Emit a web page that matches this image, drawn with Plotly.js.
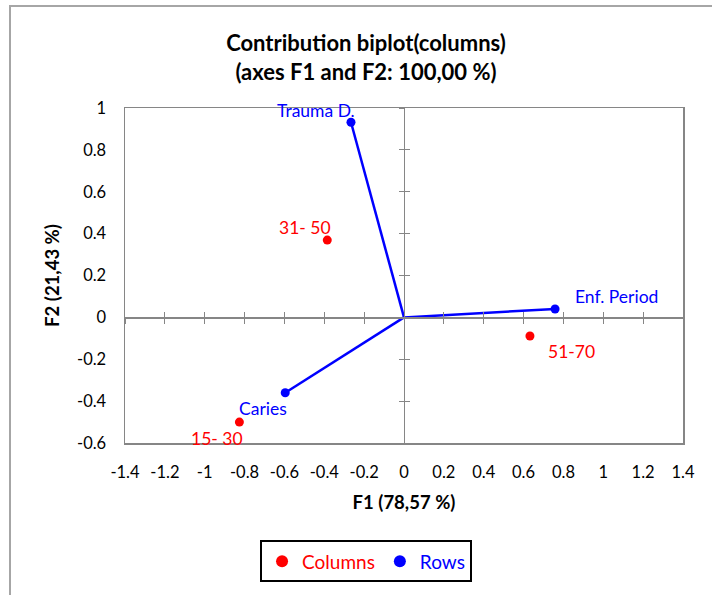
<!DOCTYPE html>
<html><head><meta charset="utf-8">
<script src="https://cdn.plot.ly/plotly-3.0.1.min.js"></script>
<style>
body{margin:0;overflow:hidden;background:#fff}
#wrap{position:relative;width:712px;height:595px}
#frame{position:absolute;left:9px;top:5px;width:720px;height:600px;border-left:2px solid #a6a6a6;border-top:2px solid #a6a6a6;pointer-events:none}
</style>
</head><body>
<div id="wrap"><div id="chart" style="width:712px;height:595px"></div><div id="frame"></div></div>
<script>
// Columns (age groups)
const colLabels = ['15- 30', '31- 50', '51-70'];
const colX = [-0.826, -0.385, 0.632];
const colY = [-0.500, 0.369, -0.089];
// Rows (pathologies)
const rowLabels = ['Caries', 'Trauma D.', 'Enf. Period'];
const rowX = [-0.596, -0.266, 0.758];
const rowY = [-0.360, 0.932, 0.040];
// Ticks
const xTickVals = [-1.4, -1.2, -1, -0.8, -0.6, -0.4, -0.2, 0, 0.2, 0.4, 0.6, 0.8, 1, 1.2, 1.4];
const xTickText = ['-1.4', '-1.2', '-1', '-0.8', '-0.6', '-0.4', '-0.2', '0', '0.2', '0.4', '0.6', '0.8', '1', '1.2', '1.4'];
const yTickVals = [-0.6, -0.4, -0.2, 0, 0.2, 0.4, 0.6, 0.8, 1];
const yTickText = ['-0.6', '-0.4', '-0.2', '0', '0.2', '0.4', '0.6', '0.8', '1'];

// label offsets (style)
const colShift = [[-22, -16], [-22, 13], [42, -15]];
const rowShift = [[-22, -16], [-35, 12], [61, 13]];

const RED = '#ff0000', BLUE = '#0000ff', GRAY = '#868686';
const FONT = 'Lato, "Open Sans", sans-serif';
const xRange = [-1.4, 1.4], yRange = [-0.6, 1];

// lines from origin to row points
const lx = [], ly = [];
rowX.forEach((v, i) => { lx.push(0, v, null); ly.push(0, rowY[i], null); });

const dummy = (xa, ya) => ({x: [null], y: [null], xaxis: xa, yaxis: ya, type: 'scatter', mode: 'markers', showlegend: false, hoverinfo: 'skip'});

const traces = [
  dummy('x2', 'y'), dummy('x3', 'y'), dummy('x', 'y2'), dummy('x', 'y3'),
  {x: lx, y: ly, type: 'scatter', mode: 'lines', line: {color: BLUE, width: 2.5}, showlegend: false, hoverinfo: 'skip'},
  {x: colX, y: colY, text: colLabels, type: 'scatter', mode: 'markers', name: '<span style="color:#ff0000">Columns</span>', marker: {color: RED, size: 9}},
  {x: rowX, y: rowY, text: rowLabels, type: 'scatter', mode: 'markers', name: '<span style="color:#0000ff">Rows</span>', marker: {color: BLUE, size: 9}}
];

const annotations = [];
colLabels.forEach((t, i) => annotations.push({x: colX[i], y: colY[i], text: t, showarrow: false, xshift: colShift[i][0], yshift: colShift[i][1], font: {family: FONT, size: 17.5, color: RED}}));
rowLabels.forEach((t, i) => annotations.push({x: rowX[i], y: rowY[i], text: t, showarrow: false, xshift: rowShift[i][0], yshift: rowShift[i][1], font: {family: FONT, size: 17.5, color: BLUE}}));

const zeroAx = (extra) => Object.assign({
  range: xRange, tickvals: xTickVals, overlaying: 'x', anchor: 'free', position: (0 - yRange[0]) / (yRange[1] - yRange[0]),
  showticklabels: false, ticklen: 5, tickcolor: GRAY, tickwidth: 1, showline: true, linecolor: GRAY, linewidth: 1.3,
  showgrid: false, zeroline: false, fixedrange: true
}, extra);
const zeroAy = (extra) => Object.assign({
  range: yRange, tickvals: yTickVals, overlaying: 'y', anchor: 'free', position: (0 - xRange[0]) / (xRange[1] - xRange[0]),
  showticklabels: false, ticklen: 5, tickcolor: GRAY, tickwidth: 1, showline: true, linecolor: GRAY, linewidth: 1.3,
  showgrid: false, zeroline: false, fixedrange: true
}, extra);

const layout = {
  width: 712, height: 595,
  margin: {l: 125, r: 29, t: 108, b: 152},
  paper_bgcolor: '#fff', plot_bgcolor: '#fff',
  font: {family: FONT, color: '#000'},
  title: {
    text: 'Contribution biplot(columns)<br>(axes F1 and F2: 100,00 %)',
    xref: 'container', x: 0.514, xanchor: 'center', yref: 'container', y: 0.914, yanchor: 'middle',
    font: {family: FONT, size: 22, weight: 'bold', color: '#000'}
  },
  xaxis: {
    range: xRange, tickvals: xTickVals, ticktext: xTickText, showline: true, mirror: true, linecolor: GRAY, linewidth: 1.5,
    ticks: '', showgrid: false, zeroline: false, tickfont: {size: 16.5, family: FONT}, ticklabelstandoff: 14,
    title: {text: 'F1 (78,57 %)', font: {size: 18.5, weight: 'bold', family: FONT}, standoff: 15}, fixedrange: true
  },
  yaxis: {
    range: yRange, tickvals: yTickVals, ticktext: yTickText, showline: true, mirror: true, linecolor: GRAY, linewidth: 1.5,
    ticks: '', showgrid: false, zeroline: false, tickfont: {size: 16.5, family: FONT}, ticklabelstandoff: 14,
    title: {text: 'F2 (21,43 %)', font: {size: 18.5, weight: 'bold', family: FONT}, standoff: 12}, fixedrange: true
  },
  xaxis2: zeroAx({ticks: 'outside'}),
  xaxis3: zeroAx({ticks: 'inside'}),
  yaxis2: zeroAy({ticks: 'outside'}),
  yaxis3: zeroAy({ticks: 'inside'}),
  showlegend: true,
  legend: {
    orientation: 'h', x: 0.432, xanchor: 'center', y: -0.291, yanchor: 'top',
    bordercolor: '#000', borderwidth: 2, font: {size: 19, family: FONT}, itemsizing: 'constant', itemwidth: 30
  },
  annotations: annotations
};

Plotly.newPlot('chart', traces, layout, {displayModeBar: false, staticPlot: true});
</script>
</body></html>
